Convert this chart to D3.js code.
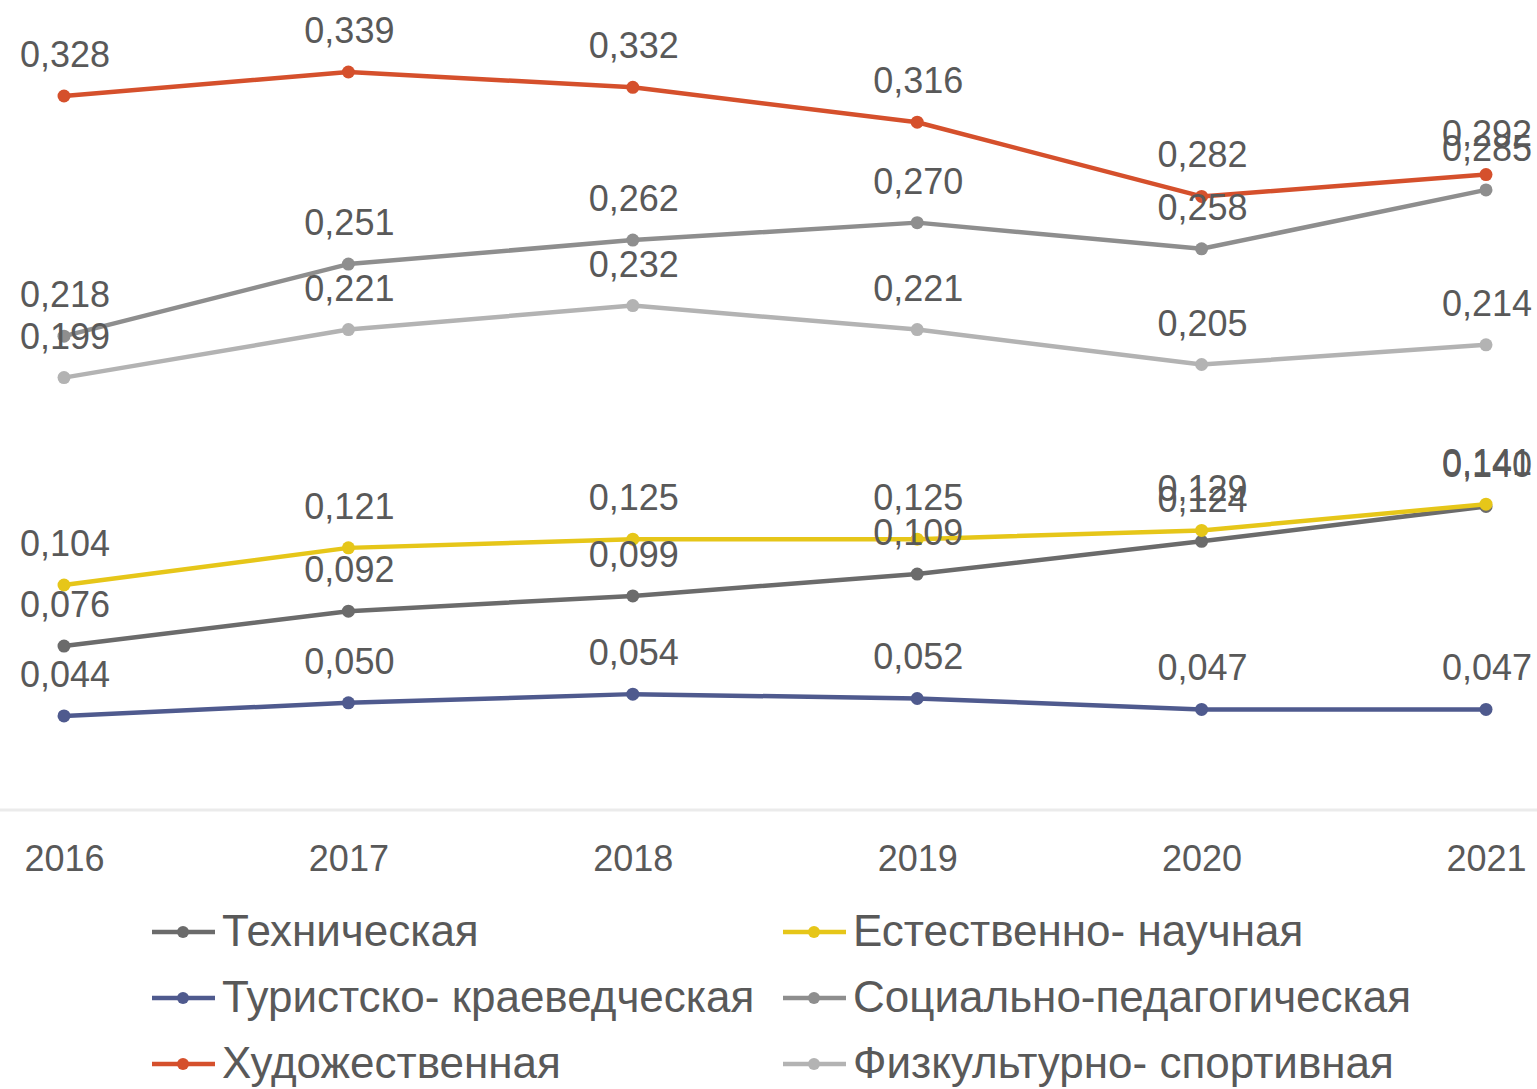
<!DOCTYPE html>
<html><head><meta charset="utf-8">
<script src="https://cdn.jsdelivr.net/npm/d3@7"></script>
<style>html,body{margin:0;padding:0;background:#fff;}svg{display:block;}</style>
</head><body>
<svg id="chart" width="1537" height="1089"></svg>
<script>
const years = ["2016","2017","2018","2019","2020","2021"];
const seriesNames = ["Техническая","Естественно- научная","Туристско- краеведческая","Социально-педагогическая","Художественная","Физкультурно- спортивная"];
const tech = [0.076,0.092,0.099,0.109,0.124,0.140];
const nature = [0.104,0.121,0.125,0.125,0.129,0.141];
const tourism = [0.044,0.050,0.054,0.052,0.047,0.047];
const social = [0.218,0.251,0.262,0.270,0.258,0.285];
const art = [0.328,0.339,0.332,0.316,0.282,0.292];
const sport = [0.199,0.221,0.232,0.221,0.205,0.214];
const colors = ["#6b6b6b","#e6c619","#4f5a8e","#8e8e8e","#d5502c","#b3b3b3"];
const seriesValues = [tech,nature,tourism,social,art,sport];
const drawOrder = [5,3,4,0,1,2];

const svg = d3.select("#chart");
const x = d3.scalePoint().domain(years).range([64,1486]);
const y = d3.scaleLinear().domain([0,0.35]).range([812,48]);
const fmt = v => d3.format(".3f")(v).replace(".", ",");

// axis
const xAxis = svg.append("g").attr("transform","translate(0,810)")
  .call(d3.axisBottom(x).tickSize(0).tickPadding(35));
xAxis.select(".domain").attr("d","M0,0H1537").attr("stroke","#ebebeb").attr("stroke-width",3);
xAxis.selectAll("text").attr("font-family","Liberation Sans, Arial, sans-serif")
  .attr("font-size",36).attr("fill","#595959");

const line = d3.line().x((d,i)=>x(years[i])).y(d=>y(d));
drawOrder.forEach(si=>{
  const vals = seriesValues[si];
  const g = svg.append("g");
  g.append("path").datum(vals).attr("d",line).attr("fill","none")
    .attr("stroke",colors[si]).attr("stroke-width",4.5).attr("stroke-linejoin","round");
  g.selectAll("circle").data(vals).join("circle")
    .attr("cx",(d,i)=>x(years[i])).attr("cy",d=>y(d)).attr("r",6.5).attr("fill",colors[si]);
});
drawOrder.forEach(si=>{
  const vals = seriesValues[si];
  svg.append("g").selectAll("text").data(vals).join("text")
    .attr("x",(d,i)=>x(years[i])+1).attr("y",d=>y(d)-29)
    .attr("text-anchor","middle")
    .attr("font-family","Liberation Sans, Arial, sans-serif").attr("font-size",36)
    .attr("fill","#595959").text(d=>fmt(d));
});

// legend
const legX = [152,783], legY = [932,998,1064];
seriesNames.forEach((name,i)=>{
  const col = i%2, row = Math.floor(i/2);
  const g = svg.append("g").attr("transform",`translate(${legX[col]},${legY[row]})`);
  g.append("line").attr("x1",0).attr("x2",63).attr("y1",0).attr("y2",0)
    .attr("stroke",colors[i]).attr("stroke-width",4.5);
  g.append("circle").attr("cx",31).attr("cy",0).attr("r",6).attr("fill",colors[i]);
  g.append("text").attr("x",70).attr("y",14)
    .attr("font-family","Liberation Sans, Arial, sans-serif").attr("font-size",44)
    .attr("fill","#595959").text(name);
});
</script>
</body></html>
